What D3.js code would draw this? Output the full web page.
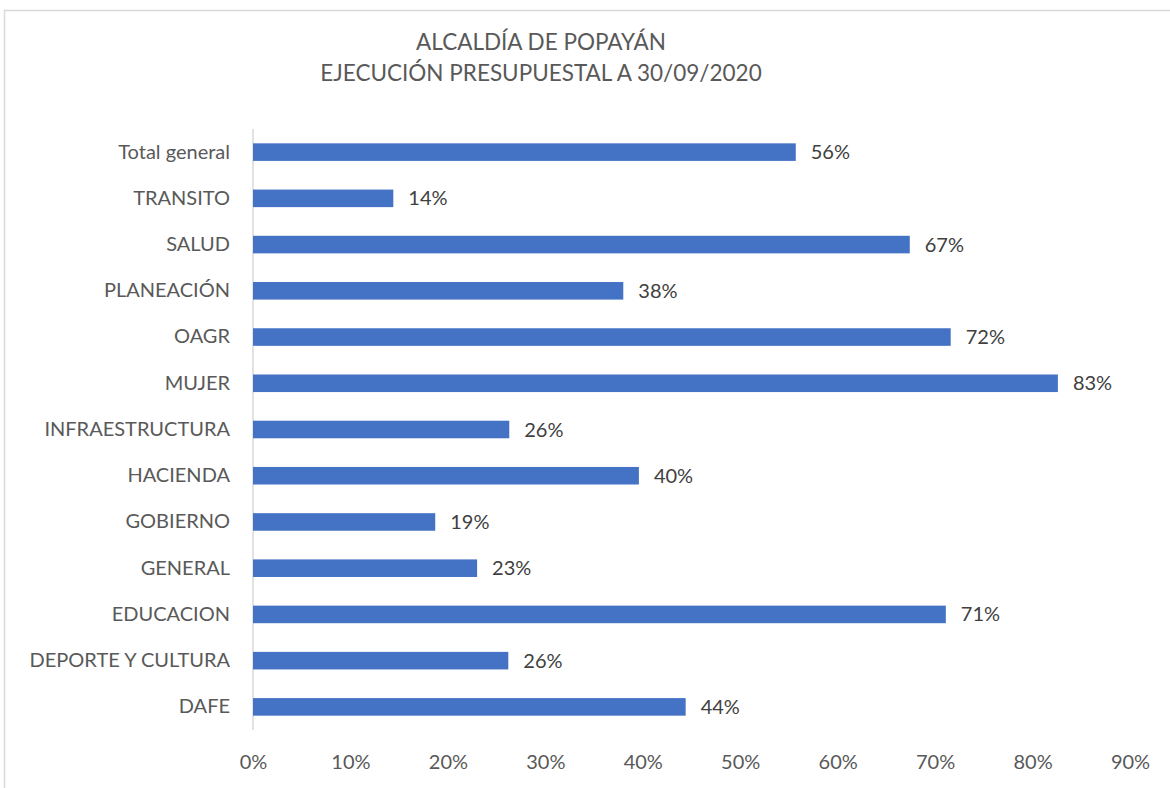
<!DOCTYPE html>
<html>
<head>
<meta charset="utf-8">
<script src="https://cdn.jsdelivr.net/npm/d3@7"></script>
<style>
  body { margin: 0; background: #fff; }
  text { font-family: Lato, "Open Sans", sans-serif; }
</style>
</head>
<body>
<script>
// chart data, top to bottom as in the picture
var categories = ["Total general", "TRANSITO", "SALUD", "PLANEACIÓN", "OAGR", "MUJER",
  "INFRAESTRUCTURA", "HACIENDA", "GOBIERNO", "GENERAL", "EDUCACION", "DEPORTE Y CULTURA", "DAFE"];
var values = [0.557, 0.144, 0.674, 0.380, 0.716, 0.826, 0.263, 0.396, 0.187, 0.230, 0.711, 0.262, 0.444];
var ticks = [0, 0.1, 0.2, 0.3, 0.4, 0.5, 0.6, 0.7, 0.8, 0.9];
var titleLines = ["ALCALDÍA DE POPAYÁN", "EJECUCIÓN PRESUPUESTAL A 30/09/2020"];

var w = 1170;
var h = 788;
var plotL = 253, plotR = 1130, plotT = 129, plotB = 730;

var svg = d3.select("body")
  .append("svg")
  .attr("width", w)
  .attr("height", h);

// chart frame (runs off the right and bottom edge like the screenshot)
svg.append("rect")
  .attr("x", 4.5)
  .attr("y", 10.5)
  .attr("width", 1300)
  .attr("height", 900)
  .attr("fill", "none")
  .attr("stroke", "#d9d9d9")
  .attr("stroke-width", 1.5);

svg.selectAll(".title")
  .data(titleLines)
  .enter()
  .append("text")
  .attr("class", "title")
  .attr("x", 541)
  .attr("y", function(d, i) { return 50 + i * 31; })
  .attr("text-anchor", "middle")
  .attr("fill", "#595959")
  .style("font-size", "22.5px")
  .text(function(d) { return d; });

var scaleX = d3.scaleLinear()
  .domain([0, 0.9])
  .range([plotL, plotR]);

var scaleY = d3.scaleBand()
  .domain(categories)
  .range([plotT, plotB])
  .paddingInner(0.62)
  .paddingOuter(0.31);

// x axis: labels only
var xAxis = d3.axisBottom()
  .scale(scaleX)
  .tickValues(ticks)
  .tickFormat(d3.format(".0%"))
  .tickSize(0)
  .tickPadding(0);

var gx = svg.append("g")
  .attr("transform", "translate(0," + 769 + ")")
  .call(xAxis);
gx.select(".domain").remove();
gx.selectAll("text")
  .attr("dy", 0)
  .attr("fill", "#595959")
  .style("font-size", "20px");

// y axis: category labels + light vertical line
var yAxis = d3.axisLeft()
  .scale(scaleY)
  .tickSize(0)
  .tickPadding(23);

var gy = svg.append("g")
  .attr("transform", "translate(" + plotL + ",0)")
  .call(yAxis);
gy.select(".domain").remove();
gy.selectAll("text")
  .attr("fill", "#595959")
  .style("font-size", "20px");

svg.append("line")
  .attr("x1", plotL)
  .attr("x2", plotL)
  .attr("y1", plotT)
  .attr("y2", plotB)
  .attr("stroke", "#d9d9d9")
  .attr("stroke-width", 1.5);

svg.selectAll(".bar")
  .data(values)
  .enter()
  .append("rect")
  .attr("class", "bar")
  .attr("x", scaleX(0))
  .attr("y", function(d, i) { return scaleY(categories[i]); })
  .attr("width", function(d) { return scaleX(d) - scaleX(0); })
  .attr("height", scaleY.bandwidth())
  .attr("fill", "#4472c4");

svg.selectAll(".lbl")
  .data(values)
  .enter()
  .append("text")
  .attr("class", "lbl")
  .attr("x", function(d) { return scaleX(d) + 15; })
  .attr("y", function(d, i) { return scaleY(categories[i]) + scaleY.bandwidth() / 2; })
  .attr("dy", "0.35em")
  .attr("fill", "#404040")
  .style("font-size", "20px")
  .text(function(d) { return d3.format(".0%")(d); });
</script>
</body>
</html>
